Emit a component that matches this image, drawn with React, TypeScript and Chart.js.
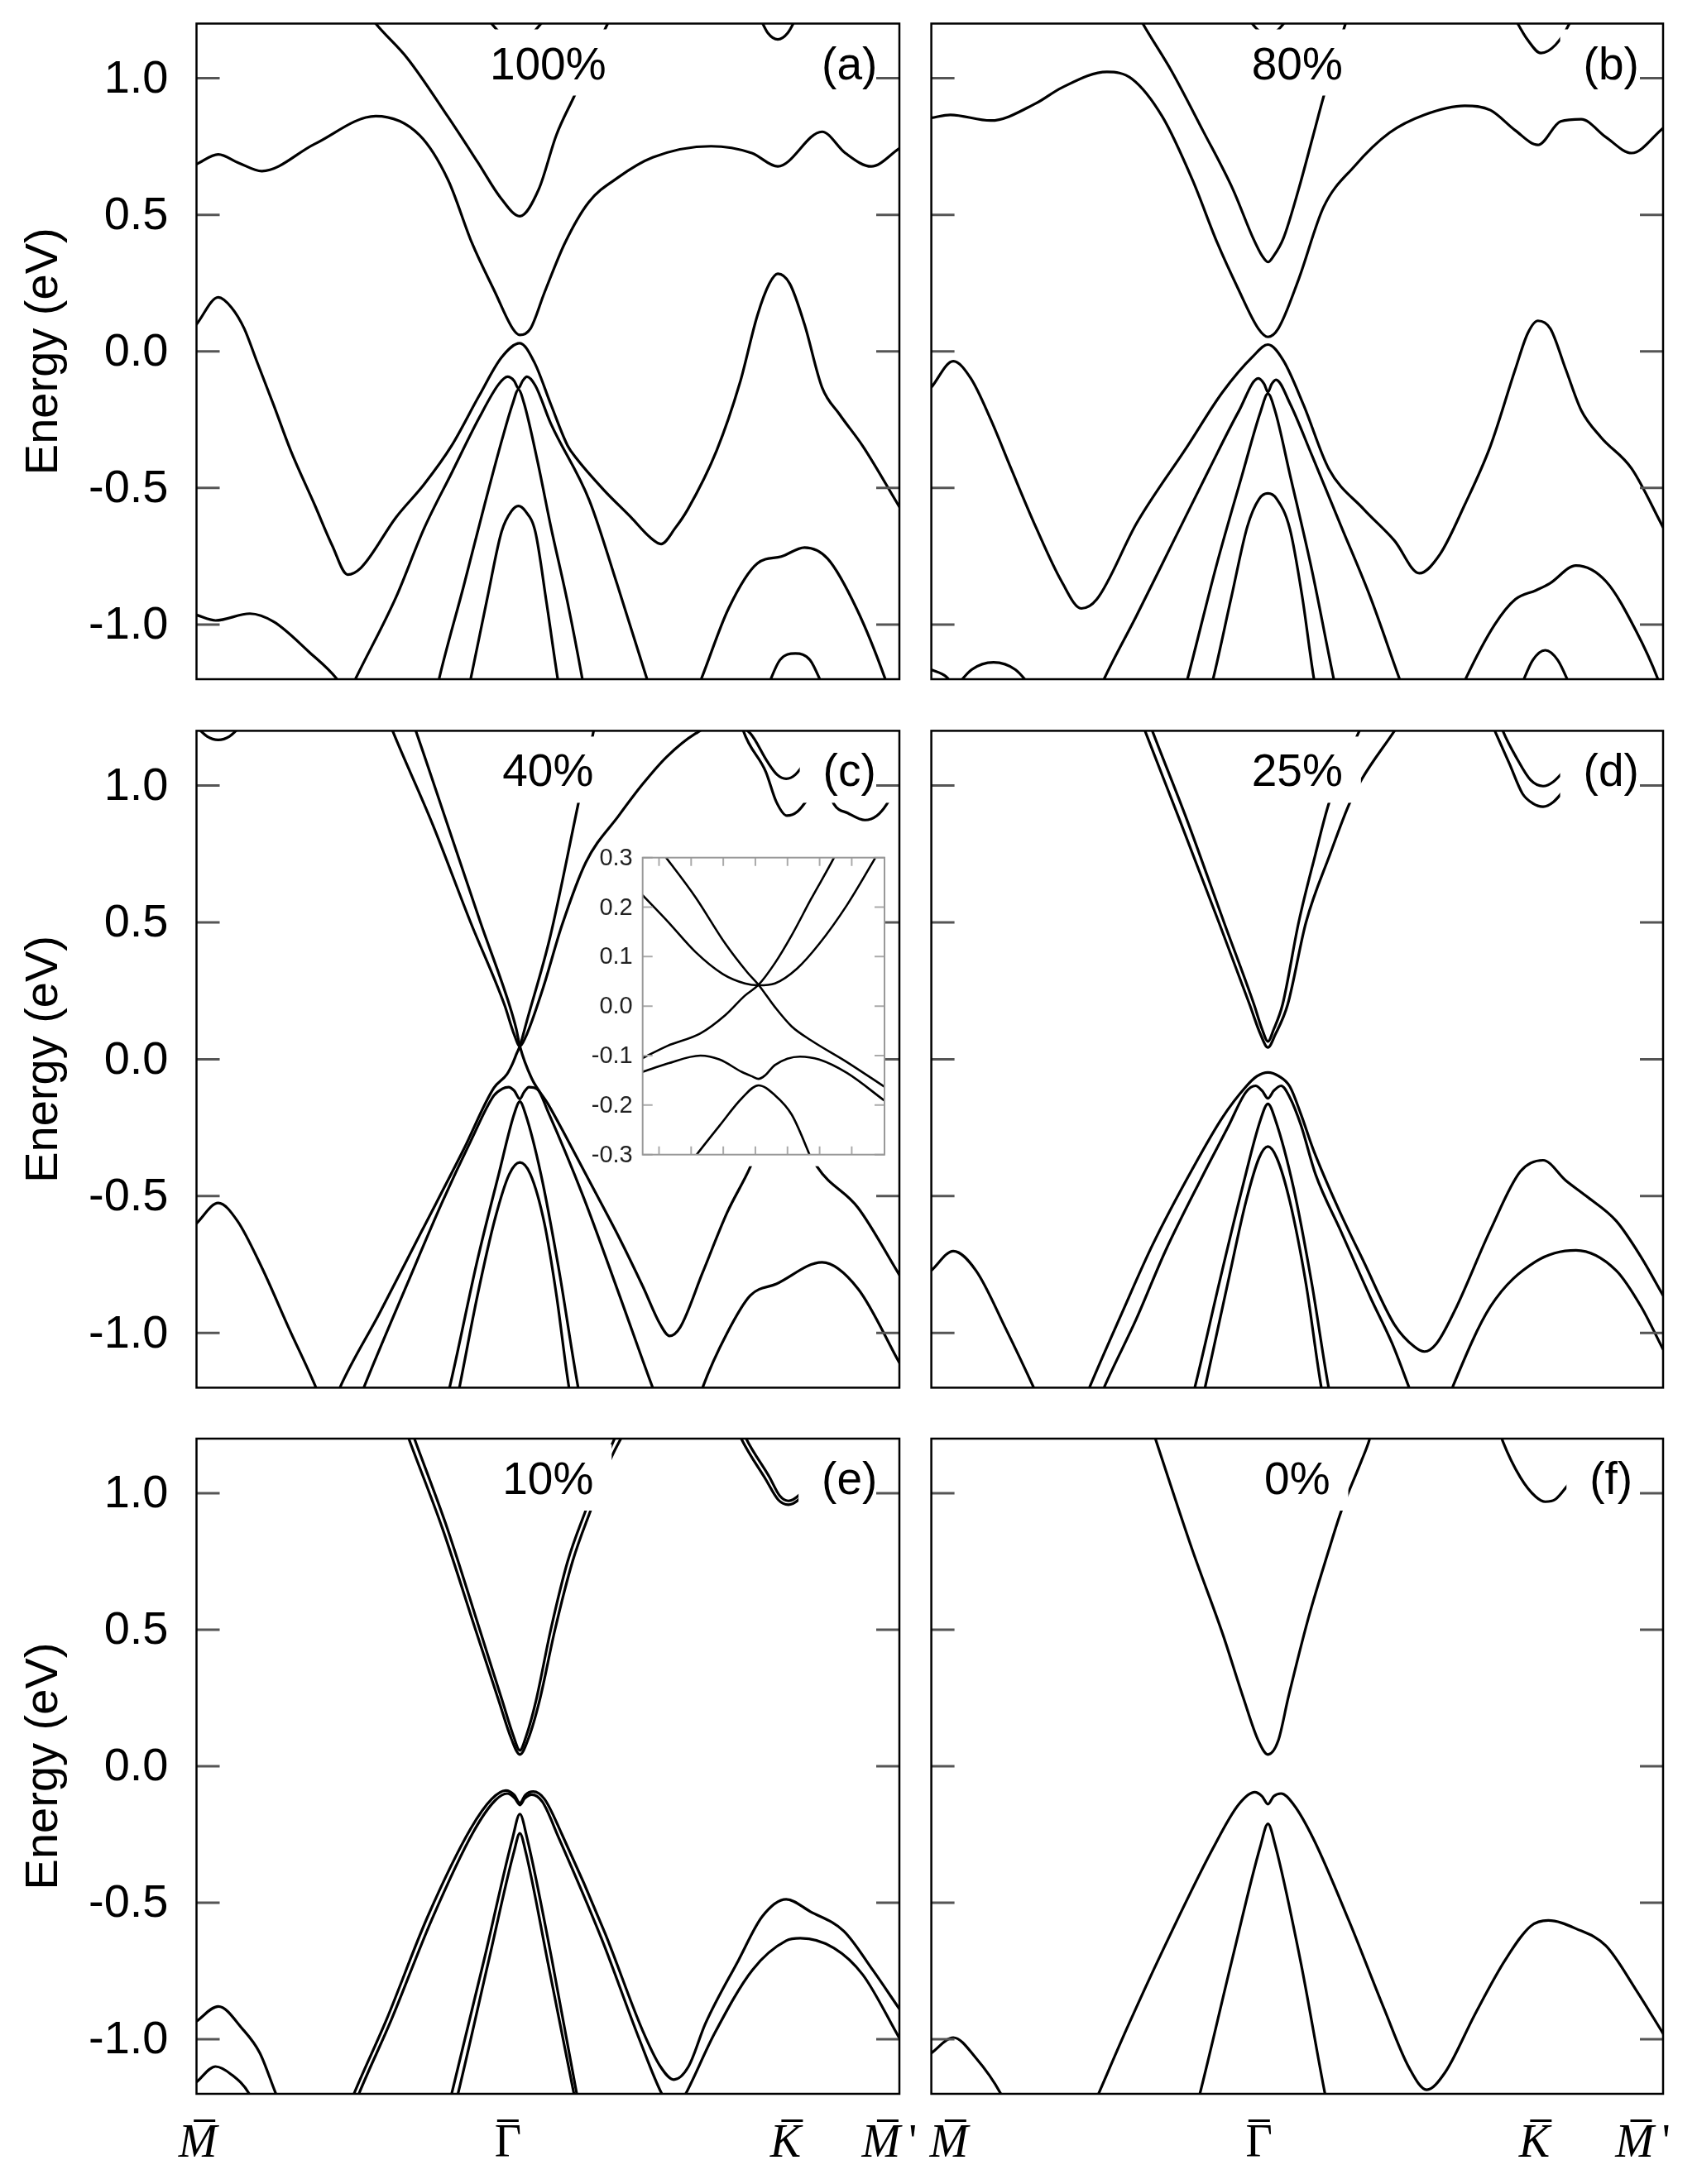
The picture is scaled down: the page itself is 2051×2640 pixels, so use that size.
import { useEffect, useRef } from 'react';
import { Chart, registerables } from 'chart.js';

Chart.register(...registerables);

type Pt = [number, number];

// x = position along the k-path (0 = M, 1 = M'), y = energy in eV

// (a) 100%
const a_c0: Pt[] = [[0.41, 1.23], [0.43, 1.17], [0.455, 1.11], [0.48, 1.17], [0.5, 1.23]];
const a_c1: Pt[] = [[0.235, 1.27], [0.255, 1.2], [0.3, 1.073], [0.358, 0.858], [0.4, 0.693], [0.433, 0.561], [0.46, 0.495], [0.487, 0.594], [0.512, 0.792], [0.537, 0.932], [0.585, 1.2], [0.595, 1.25]];
const a_c2: Pt[] = [[0, 0.685], [0.031, 0.721], [0.06, 0.69], [0.093, 0.66], [0.168, 0.759], [0.255, 0.861], [0.317, 0.792], [0.358, 0.627], [0.392, 0.396], [0.425, 0.215], [0.45, 0.083], [0.46, 0.06], [0.475, 0.083], [0.495, 0.215], [0.524, 0.396], [0.558, 0.546], [0.6, 0.637], [0.649, 0.71], [0.732, 0.751], [0.79, 0.726], [0.827, 0.677], [0.89, 0.804], [0.923, 0.726], [0.96, 0.677], [1, 0.743]];
const a_c3: Pt[] = [[0.8, 1.23], [0.813, 1.165], [0.827, 1.142], [0.841, 1.165], [0.855, 1.23]];
const a_v1: Pt[] = [[0, 0.099], [0.031, 0.198], [0.05, 0.16], [0.068, 0.083], [0.085, -0.031], [0.11, -0.198], [0.134, -0.363], [0.168, -0.561], [0.193, -0.71], [0.215, -0.817], [0.234, -0.792], [0.284, -0.607], [0.324, -0.486], [0.363, -0.345], [0.402, -0.163], [0.434, -0.022], [0.46, 0.03], [0.481, -0.042], [0.504, -0.193], [0.528, -0.345], [0.54, -0.39], [0.579, -0.506], [0.618, -0.607], [0.645, -0.68], [0.661, -0.705], [0.681, -0.647], [0.699, -0.578], [0.74, -0.363], [0.773, -0.116], [0.798, 0.132], [0.815, 0.248], [0.827, 0.284], [0.844, 0.248], [0.865, 0.099], [0.89, -0.132], [0.915, -0.231], [0.948, -0.347], [1, -0.569]];
const a_v2: Pt[] = [[0.215, -1.26], [0.226, -1.2], [0.284, -0.899], [0.324, -0.647], [0.363, -0.445], [0.402, -0.244], [0.43, -0.12], [0.4425, -0.093], [0.452, -0.108], [0.458, -0.135], [0.464, -0.108], [0.47, -0.093], [0.482, -0.125], [0.504, -0.264], [0.559, -0.546], [0.598, -0.849], [0.641, -1.2], [0.648, -1.26]];
const a_v3: Pt[] = [[0.34, -1.26], [0.345, -1.2], [0.38, -0.86], [0.41, -0.56], [0.435, -0.32], [0.45, -0.19], [0.458, -0.14], [0.466, -0.19], [0.485, -0.4], [0.504, -0.64], [0.528, -0.92], [0.549, -1.2], [0.553, -1.26]];
const a_v4: Pt[] = [[0.385, -1.26], [0.39, -1.2], [0.414, -0.9], [0.434, -0.66], [0.448, -0.585], [0.458, -0.566], [0.468, -0.585], [0.482, -0.66], [0.498, -0.92], [0.514, -1.2], [0.518, -1.26]];
const a_v5: Pt[] = [[0, -0.965], [0.027, -0.985], [0.076, -0.96], [0.11, -0.99], [0.16, -1.1], [0.2, -1.2], [0.21, -1.24]];
const a_v6: Pt[] = [[0.71, -1.25], [0.718, -1.2], [0.757, -0.941], [0.798, -0.776], [0.832, -0.751], [0.865, -0.718], [0.898, -0.759], [0.939, -0.941], [0.98, -1.2], [0.985, -1.24]];
const a_v7: Pt[] = [[0.812, -1.23], [0.83, -1.13], [0.852, -1.106], [0.873, -1.13], [0.892, -1.23]];

// (b) 80%
const b_c0: Pt[] = [[0.43, 1.23], [0.445, 1.18], [0.46, 1.155], [0.475, 1.18], [0.49, 1.23]];
const b_c1: Pt[] = [[0.275, 1.27], [0.289, 1.2], [0.329, 1.023], [0.371, 0.809], [0.412, 0.594], [0.44, 0.413], [0.452, 0.35], [0.46, 0.327], [0.468, 0.35], [0.481, 0.413], [0.502, 0.594], [0.522, 0.792], [0.536, 0.932], [0.566, 1.2], [0.572, 1.25]];
const b_c2: Pt[] = [[0, 0.855], [0.026, 0.866], [0.081, 0.845], [0.143, 0.908], [0.178, 0.965], [0.24, 1.023], [0.274, 0.998], [0.316, 0.858], [0.357, 0.627], [0.391, 0.396], [0.419, 0.231], [0.447, 0.083], [0.46, 0.053], [0.474, 0.083], [0.502, 0.264], [0.536, 0.528], [0.578, 0.677], [0.626, 0.8], [0.674, 0.866], [0.729, 0.899], [0.764, 0.883], [0.798, 0.809], [0.829, 0.756], [0.86, 0.842], [0.888, 0.85], [0.922, 0.784], [0.957, 0.726], [1, 0.817]];
const b_c3: Pt[] = [[0.795, 1.23], [0.815, 1.14], [0.833, 1.092], [0.853, 1.122], [0.872, 1.2], [0.878, 1.24]];
const b_v1: Pt[] = [[0, -0.132], [0.03, -0.036], [0.054, -0.099], [0.081, -0.248], [0.109, -0.429], [0.143, -0.644], [0.178, -0.842], [0.205, -0.941], [0.226, -0.908], [0.281, -0.627], [0.35, -0.347], [0.398, -0.149], [0.44, -0.017], [0.46, 0.025], [0.481, -0.033], [0.509, -0.198], [0.543, -0.429], [0.591, -0.578], [0.633, -0.693], [0.667, -0.812], [0.695, -0.743], [0.729, -0.561], [0.764, -0.347], [0.798, -0.066], [0.815, 0.066], [0.829, 0.112], [0.846, 0.083], [0.867, -0.066], [0.888, -0.215], [0.915, -0.314], [0.957, -0.429], [1, -0.644]];
const b_v2: Pt[] = [[0.228, -1.25], [0.236, -1.2], [0.28, -0.97], [0.33, -0.7], [0.38, -0.43], [0.42, -0.22], [0.447, -0.099], [0.455, -0.12], [0.46, -0.149], [0.465, -0.12], [0.471, -0.104], [0.49, -0.19], [0.52, -0.38], [0.56, -0.64], [0.6, -0.9], [0.64, -1.2], [0.647, -1.25]];
const b_v3: Pt[] = [[0.345, -1.25], [0.35, -1.2], [0.39, -0.78], [0.425, -0.45], [0.45, -0.22], [0.46, -0.155], [0.47, -0.22], [0.49, -0.45], [0.52, -0.8], [0.55, -1.2], [0.554, -1.25]];
const b_v4: Pt[] = [[0.38, -1.25], [0.385, -1.2], [0.41, -0.9], [0.432, -0.64], [0.448, -0.54], [0.46, -0.52], [0.472, -0.54], [0.49, -0.65], [0.507, -0.9], [0.523, -1.2], [0.527, -1.25]];
const b_v5a: Pt[] = [[0, -1.165], [0.02, -1.19], [0.035, -1.24]];
const b_v5b: Pt[] = [[0.03, -1.24], [0.055, -1.165], [0.085, -1.138], [0.115, -1.165], [0.14, -1.24]];
const b_v6: Pt[] = [[0.722, -1.25], [0.73, -1.2], [0.77, -1.0], [0.798, -0.908], [0.826, -0.875], [0.845, -0.85], [0.881, -0.784], [0.922, -0.842], [0.963, -1.023], [0.993, -1.2], [0.998, -1.24]];
const b_v7: Pt[] = [[0.805, -1.23], [0.822, -1.13], [0.839, -1.094], [0.856, -1.13], [0.874, -1.23]];

// (c) 40%
const c_tl: Pt[] = [[0, 1.215], [0.015, 1.18], [0.031, 1.167], [0.047, 1.18], [0.062, 1.215]];
const c_u: Pt[] = [[0.27, 1.26], [0.279, 1.2], [0.336, 0.858], [0.39, 0.5], [0.438, 0.2], [0.452, 0.09], [0.46, 0.048], [0.468, 0.08], [0.493, 0.26], [0.52, 0.49], [0.554, 0.72], [0.601, 0.891], [0.635, 1.006], [0.669, 1.105], [0.71, 1.19], [0.75, 1.235], [0.788, 1.19], [0.812, 1.088], [0.826, 1.04], [0.839, 1.025], [0.852, 1.04], [0.875, 1.12]];
const c_x1: Pt[] = [[0.305, 1.25], [0.312, 1.2], [0.357, 0.858], [0.404, 0.5], [0.445, 0.2], [0.455, 0.11], [0.46, 0.048], [0.4767, -0.069], [0.5, -0.163], [0.525, -0.28], [0.56, -0.45], [0.601, -0.65], [0.635, -0.83], [0.66, -0.97], [0.673, -1.011], [0.688, -0.98], [0.72, -0.78], [0.755, -0.56], [0.788, -0.393], [0.81, -0.25], [0.83, -0.18], [0.85, -0.22], [0.883, -0.393], [0.941, -0.542], [1, -0.788]];
const c_x2: Pt[] = [[0.198, -1.24], [0.204, -1.2], [0.26, -0.93], [0.32, -0.63], [0.38, -0.33], [0.423, -0.105], [0.4416, -0.055], [0.4493, -0.018], [0.4555, 0.021], [0.46, 0.048], [0.47, 0.14], [0.503, 0.446], [0.543, 0.932], [0.565, 1.2], [0.57, 1.26]];
const c_m: Pt[] = [[0.232, -1.24], [0.238, -1.2], [0.3, -0.82], [0.35, -0.52], [0.39, -0.3], [0.423, -0.133], [0.435, -0.108], [0.444, -0.102], [0.452, -0.115], [0.46, -0.145], [0.466, -0.12], [0.473, -0.102], [0.485, -0.11], [0.5, -0.191], [0.55, -0.5], [0.6, -0.85], [0.649, -1.2], [0.655, -1.24]];
const c_l: Pt[] = [[0.355, -1.25], [0.36, -1.2], [0.4, -0.73], [0.43, -0.42], [0.452, -0.2], [0.46, -0.155], [0.468, -0.2], [0.49, -0.42], [0.515, -0.76], [0.543, -1.2], [0.547, -1.25]];
const c_low: Pt[] = [[0.37, -1.25], [0.374, -1.2], [0.4, -0.86], [0.425, -0.58], [0.445, -0.42], [0.46, -0.377], [0.475, -0.42], [0.495, -0.6], [0.512, -0.86], [0.53, -1.2], [0.534, -1.25]];
const c_left: Pt[] = [[0, -0.6], [0.031, -0.525], [0.058, -0.59], [0.092, -0.756], [0.132, -0.986], [0.17, -1.2], [0.176, -1.24]];
const c_k2: Pt[] = [[0.714, -1.25], [0.72, -1.2], [0.755, -1.0], [0.788, -0.863], [0.825, -0.821], [0.89, -0.742], [0.941, -0.838], [1, -1.109]];
const c_tr2: Pt[] = [[0.773, 1.25], [0.778, 1.2], [0.81, 1.05], [0.825, 0.94], [0.84, 0.89], [0.855, 0.905], [0.875, 0.97]];
const c_tr3: Pt[] = [[0.885, 1.08], [0.907, 0.932], [0.927, 0.899], [0.951, 0.874], [0.968, 0.89], [0.982, 0.932], [1, 1.02]];

// (d) 25%
const d_c1: Pt[] = [[0.285, 1.25], [0.292, 1.2], [0.34, 0.87], [0.393, 0.5], [0.435, 0.2], [0.45, 0.09], [0.46, 0.043], [0.47, 0.09], [0.487, 0.2], [0.512, 0.5], [0.545, 0.75], [0.571, 0.932], [0.588, 1.022], [0.633, 1.2], [0.645, 1.25]];
const d_c2: Pt[] = [[0.295, 1.25], [0.302, 1.2], [0.35, 0.87], [0.4, 0.5], [0.441, 0.2], [0.452, 0.11], [0.46, 0.065], [0.468, 0.11], [0.48, 0.2], [0.502, 0.5], [0.525, 0.75], [0.543, 0.932], [0.565, 1.08], [0.585, 1.2], [0.59, 1.23]];
const d_trLo: Pt[] = [[0.765, 1.23], [0.77, 1.2], [0.79, 1.08], [0.808, 0.97], [0.822, 0.935], [0.836, 0.923], [0.85, 0.94], [0.87, 1.0]];
const d_trUp: Pt[] = [[0.777, 1.23], [0.781, 1.2], [0.8, 1.1], [0.819, 1.02], [0.836, 0.998], [0.85, 1.014], [0.87, 1.07]];
const d_left: Pt[] = [[0, -0.772], [0.03, -0.701], [0.061, -0.772], [0.102, -0.986], [0.14, -1.2], [0.145, -1.23]];
const d_top: Pt[] = [[0.21, -1.24], [0.216, -1.2], [0.26, -0.93], [0.302, -0.68], [0.357, -0.4], [0.398, -0.212], [0.43, -0.1], [0.445, -0.062], [0.46, -0.048], [0.475, -0.062], [0.49, -0.1], [0.505, -0.2], [0.522, -0.33], [0.557, -0.55], [0.591, -0.74], [0.633, -0.97], [0.66, -1.05], [0.674, -1.068], [0.69, -1.04], [0.715, -0.92], [0.764, -0.624], [0.805, -0.41], [0.836, -0.369], [0.867, -0.443], [0.895, -0.5], [0.936, -0.591], [0.97, -0.723], [1, -0.863]];
const d_m: Pt[] = [[0.23, -1.24], [0.236, -1.2], [0.28, -0.95], [0.32, -0.7], [0.37, -0.43], [0.405, -0.25], [0.43, -0.12], [0.443, -0.097], [0.452, -0.115], [0.46, -0.143], [0.468, -0.115], [0.478, -0.097], [0.49, -0.14], [0.505, -0.24], [0.525, -0.42], [0.56, -0.63], [0.6, -0.87], [0.63, -1.04], [0.653, -1.2], [0.66, -1.25]];
const d_l: Pt[] = [[0.355, -1.25], [0.36, -1.2], [0.395, -0.8], [0.425, -0.47], [0.45, -0.22], [0.46, -0.163], [0.47, -0.22], [0.495, -0.47], [0.52, -0.82], [0.543, -1.2], [0.547, -1.25]];
const d_low: Pt[] = [[0.37, -1.25], [0.374, -1.2], [0.405, -0.82], [0.43, -0.52], [0.448, -0.36], [0.46, -0.319], [0.472, -0.36], [0.49, -0.52], [0.512, -0.82], [0.533, -1.2], [0.537, -1.25]];
const d_k2: Pt[] = [[0.705, -1.25], [0.712, -1.2], [0.764, -0.904], [0.826, -0.739], [0.881, -0.698], [0.936, -0.772], [0.97, -0.904], [1, -1.06]];

// (e) 10%
const e_c1: Pt[] = [[0.295, 1.25], [0.302, 1.2], [0.35, 0.87], [0.397, 0.5], [0.43, 0.24], [0.448, 0.1], [0.46, 0.043], [0.472, 0.1], [0.488, 0.24], [0.51, 0.5], [0.535, 0.75], [0.56, 0.932], [0.59, 1.13], [0.61, 1.23]];
const e_c2: Pt[] = [[0.303, 1.25], [0.31, 1.2], [0.357, 0.87], [0.403, 0.5], [0.435, 0.24], [0.451, 0.11], [0.46, 0.058], [0.469, 0.11], [0.483, 0.24], [0.504, 0.5], [0.528, 0.75], [0.553, 0.932], [0.583, 1.13], [0.6, 1.23]];
const e_trLo: Pt[] = [[0.77, 1.23], [0.775, 1.2], [0.81, 1.05], [0.828, 0.975], [0.842, 0.958], [0.856, 0.975], [0.87, 1.02]];
const e_trUp: Pt[] = [[0.777, 1.23], [0.782, 1.2], [0.815, 1.06], [0.83, 0.99], [0.842, 0.972], [0.856, 0.99], [0.87, 1.035]];
const e_l1: Pt[] = [[0, -0.934], [0.031, -0.88], [0.065, -0.961], [0.09, -1.05], [0.113, -1.2], [0.118, -1.23]];
const e_l2: Pt[] = [[0, -1.157], [0.027, -1.1], [0.05, -1.13], [0.075, -1.2], [0.08, -1.23]];
const e_v1: Pt[] = [[0.218, -1.24], [0.224, -1.2], [0.27, -0.93], [0.329, -0.55], [0.39, -0.229], [0.42, -0.12], [0.44, -0.089], [0.452, -0.105], [0.46, -0.135], [0.468, -0.105], [0.479, -0.093], [0.495, -0.12], [0.52, -0.25], [0.581, -0.61], [0.635, -0.97], [0.66, -1.1], [0.679, -1.148], [0.7, -1.1], [0.724, -0.943], [0.771, -0.711], [0.805, -0.55], [0.839, -0.4875], [0.873, -0.532], [0.921, -0.604], [0.962, -0.746], [1, -0.889]];
const e_v2: Pt[] = [[0.225, -1.24], [0.231, -1.2], [0.277, -0.93], [0.335, -0.56], [0.394, -0.24], [0.425, -0.125], [0.442, -0.1], [0.453, -0.118], [0.46, -0.142], [0.467, -0.118], [0.477, -0.104], [0.492, -0.13], [0.515, -0.26], [0.576, -0.63], [0.63, -1.0], [0.662, -1.2], [0.68, -1.27], [0.696, -1.2], [0.737, -0.979], [0.791, -0.746], [0.839, -0.639], [0.859, -0.63], [0.907, -0.666], [0.948, -0.764], [1, -0.996]];
const e_l3: Pt[] = [[0.358, -1.25], [0.363, -1.2], [0.41, -0.7], [0.45, -0.26], [0.46, -0.175], [0.47, -0.26], [0.505, -0.7], [0.541, -1.2], [0.545, -1.25]];
const e_low: Pt[] = [[0.367, -1.25], [0.372, -1.2], [0.415, -0.72], [0.452, -0.31], [0.46, -0.246], [0.468, -0.31], [0.5, -0.72], [0.537, -1.2], [0.541, -1.25]];

// (f) 0%
const f_c: Pt[] = [[0.3, 1.25], [0.307, 1.193], [0.357, 0.79], [0.398, 0.486], [0.426, 0.254], [0.447, 0.093], [0.46, 0.043], [0.474, 0.093], [0.488, 0.254], [0.515, 0.54], [0.543, 0.79], [0.56, 0.933], [0.588, 1.12], [0.598, 1.19], [0.603, 1.24]];
const f_tr: Pt[] = [[0.776, 1.23], [0.781, 1.19], [0.805, 1.058], [0.826, 0.987], [0.839, 0.969], [0.853, 0.978], [0.87, 1.03]];
const f_v1: Pt[] = [[0.222, -1.24], [0.228, -1.203], [0.267, -0.962], [0.316, -0.676], [0.385, -0.3], [0.42, -0.14], [0.442, -0.095], [0.452, -0.11], [0.46, -0.139], [0.468, -0.11], [0.478, -0.1], [0.495, -0.14], [0.522, -0.265], [0.571, -0.568], [0.619, -0.89], [0.653, -1.105], [0.677, -1.185], [0.702, -1.122], [0.743, -0.908], [0.784, -0.711], [0.819, -0.586], [0.843, -0.565], [0.881, -0.595], [0.922, -0.658], [0.963, -0.819], [1, -0.979]];
const f_l: Pt[] = [[0.362, -1.25], [0.367, -1.2], [0.41, -0.72], [0.45, -0.29], [0.46, -0.211], [0.47, -0.29], [0.505, -0.72], [0.538, -1.2], [0.542, -1.25]];
const f_left: Pt[] = [[0, -1.051], [0.03, -0.994], [0.061, -1.069], [0.095, -1.2], [0.1, -1.23]];

// inset of (c): zoom around Gamma, x in tick units
const in_u: Pt[] = [[-3.51, 0.224], [-2.73, 0.171], [-1.875, 0.11], [-1.017, 0.065], [-0.33, 0.046], [0.098, 0.042], [0.61, 0.046], [1.3, 0.076], [1.99, 0.126], [2.85, 0.204], [3.74, 0.3], [4.02, 0.33]];
const in_x1: Pt[] = [[-2.9, 0.31], [-2.78, 0.3], [-1.875, 0.221], [-0.934, 0.126], [-0.248, 0.068], [0.098, 0.043], [0.61, -0.002], [1.13, -0.041], [1.73, -0.069], [2.85, -0.113], [4.02, -0.163]];
const in_x2: Pt[] = [[-3.51, -0.105], [-2.73, -0.08], [-1.71, -0.055], [-0.934, -0.018], [-0.33, 0.021], [0.098, 0.043], [0.61, 0.087], [1.13, 0.143], [1.73, 0.216], [2.45, 0.3], [2.6, 0.32]];
const in_m: Pt[] = [[-3.51, -0.133], [-2.73, -0.116], [-1.71, -0.1], [-1.11, -0.108], [-0.42, -0.133], [-0.1, -0.142], [0.098, -0.147], [0.3, -0.14], [0.61, -0.119], [1.39, -0.102], [1.99, -0.108], [2.85, -0.135], [4.02, -0.191]];
const in_l: Pt[] = [[-2.0, -0.315], [-1.84, -0.301], [-1.11, -0.241], [-0.42, -0.186], [0.098, -0.16], [0.61, -0.18], [1.13, -0.219], [1.69, -0.301], [1.8, -0.32]];

const energyTicks = [-1, -0.5, 0, 0.5, 1];
const energyTickLabels = ['-1.0', '-0.5', '0.0', '0.5', '1.0'];
const insetETicks = [-0.3, -0.2, -0.1, 0, 0.1, 0.2, 0.3];
const insetETickLabels = ['-0.3', '-0.2', '-0.1', '0.0', '0.1', '0.2', '0.3'];
const insetKTicks = [-3, -2, -1, 0, 1, 2, 3];
const kPointNames = ['M', 'Γ', 'K', 'M'];
const kPointsE = [0.002, 0.443, 0.838, 0.974];
const kPointsF = [0.024, 0.448, 0.824, 0.961];

const SANS = '"Liberation Sans", Arial, Helvetica, sans-serif';
const SERIF = '"Liberation Serif", "Times New Roman", serif';

interface PanelSpec {
  letter: string;
  percent: string;
  bands: Pt[][];
  box: { left: number; top: number; width: number; height: number };
  pad: { left: number; top: number; right: number; bottom: number };
  yLabels: boolean;
  kPos?: number[];
}

const panels: PanelSpec[] = [
  { letter: '(a)', percent: '100%', bands: [a_c0, a_c1, a_c2, a_c3, a_v1, a_v2, a_v3, a_v4, a_v5, a_v6, a_v7],
    box: { left: 0, top: 0, width: 1120, height: 852 }, pad: { left: 237.5, top: 28.5, right: 33, bottom: 31 }, yLabels: true },
  { letter: '(b)', percent: '80%', bands: [b_c0, b_c1, b_c2, b_c3, b_v1, b_v2, b_v3, b_v4, b_v5a, b_v5b, b_v6, b_v7],
    box: { left: 1106, top: 0, width: 945, height: 852 }, pad: { left: 19.6, top: 28.5, right: 41, bottom: 31 }, yLabels: false },
  { letter: '(c)', percent: '40%', bands: [c_tl, c_u, c_x1, c_x2, c_m, c_l, c_low, c_left, c_k2, c_tr2, c_tr3],
    box: { left: 0, top: 852, width: 1120, height: 856 }, pad: { left: 237.5, top: 31.4, right: 33, bottom: 30.6 }, yLabels: true },
  { letter: '(d)', percent: '25%', bands: [d_c1, d_c2, d_trLo, d_trUp, d_left, d_top, d_m, d_l, d_low, d_k2],
    box: { left: 1106, top: 852, width: 945, height: 856 }, pad: { left: 19.6, top: 31.4, right: 41, bottom: 30.6 }, yLabels: false },
  { letter: '(e)', percent: '10%', bands: [e_c1, e_c2, e_trLo, e_trUp, e_l1, e_l2, e_v1, e_v2, e_l3, e_low],
    box: { left: 0, top: 1708, width: 1120, height: 932 }, pad: { left: 237.5, top: 31, right: 33, bottom: 109 }, yLabels: true, kPos: kPointsE },
  { letter: '(f)', percent: '0%', bands: [f_c, f_tr, f_v1, f_l, f_left],
    box: { left: 1106, top: 1708, width: 945, height: 932 }, pad: { left: 19.6, top: 31, right: 41, bottom: 109 }, yLabels: false, kPos: kPointsF },
];

function lineSet(band: Pt[], width: number) {
  return {
    data: band.map(([x, y]) => ({ x, y })),
    borderColor: '#000',
    borderWidth: width,
    borderCapStyle: 'round',
    borderJoinStyle: 'round',
    pointRadius: 0,
    fill: false,
    cubicInterpolationMode: 'monotone',
    clip: 0,
  };
}

function panelDecor(spec: PanelSpec) {
  return {
    id: 'panelDecor',
    afterDatasetsDraw(chart: any) {
      const { ctx, chartArea: ca, scales } = chart;
      const base = ca.top + 67;
      ctx.save();
      ctx.font = `55px ${SANS}`;
      ctx.textAlign = 'center';
      ctx.textBaseline = 'alphabetic';
      const tags: [string, number, number][] = [[spec.percent, 0.5, 22], [spec.letter, 0.929, 28]];
      for (const [text, frac, pad] of tags) {
        const cx = scales.x.getPixelForValue(frac);
        const w = ctx.measureText(text).width;
        ctx.fillStyle = '#fff';
        ctx.fillRect(cx - w / 2 - pad, base - 60, w + 2 * pad, 80);
        ctx.fillStyle = '#000';
        ctx.fillText(text, cx, base);
      }
      ctx.restore();
    },
    afterDraw(chart: any) {
      const { ctx, chartArea: ca, scales } = chart;
      ctx.save();
      ctx.strokeStyle = '#555';
      ctx.lineWidth = 3;
      for (const v of energyTicks) {
        const y = scales.y.getPixelForValue(v);
        ctx.beginPath();
        ctx.moveTo(ca.left, y);
        ctx.lineTo(ca.left + 28, y);
        ctx.moveTo(ca.right - 28, y);
        ctx.lineTo(ca.right, y);
        ctx.stroke();
      }
      ctx.strokeStyle = '#000';
      ctx.lineWidth = 2.5;
      ctx.strokeRect(ca.left, ca.top, ca.right - ca.left, ca.bottom - ca.top);

      ctx.fillStyle = '#000';
      if (spec.yLabels) {
        ctx.font = `56px ${SANS}`;
        ctx.textAlign = 'right';
        ctx.textBaseline = 'middle';
        energyTicks.forEach((v, i) => {
          ctx.fillText(energyTickLabels[i], ca.left - 34, scales.y.getPixelForValue(v) + 2);
        });
        ctx.save();
        ctx.translate(ca.left - 184, (ca.top + ca.bottom) / 2);
        ctx.rotate(-Math.PI / 2);
        ctx.textAlign = 'center';
        ctx.fillText('Energy (eV)', 0, 0);
        ctx.restore();
      }
      if (spec.kPos) {
        const base = ca.bottom + 76;
        spec.kPos.forEach((pos, i) => {
          const name = kPointNames[i];
          const italic = name !== 'Γ';
          const x = scales.x.getPixelForValue(pos);
          ctx.font = `${italic ? 'italic ' : ''}56px ${SERIF}`;
          ctx.textAlign = 'center';
          ctx.textBaseline = 'alphabetic';
          ctx.fillText(name, x, base);
          const w = ctx.measureText(name).width;
          const shift = italic ? 8 : 0;
          ctx.fillRect(x + shift - 13, ca.bottom + 31, 26, 3);
          if (i === kPointNames.length - 1) {
            ctx.font = `56px ${SERIF}`;
            ctx.textAlign = 'left';
            ctx.fillText("'", x + w / 2 + 10, base);
          }
        });
      }
      ctx.restore();
    },
  };
}

function BandPanel({ spec }: { spec: PanelSpec }) {
  const ref = useRef<HTMLCanvasElement>(null);

  useEffect(() => {
    if (!ref.current) return;
    const chart = new Chart(ref.current, {
      type: 'line',
      data: { datasets: spec.bands.map((b) => lineSet(b, 3.2)) as any },
      options: {
        responsive: false,
        animation: false,
        devicePixelRatio: 1,
        events: [],
        layout: { padding: spec.pad },
        scales: {
          x: { type: 'linear', min: 0, max: 1, display: false },
          y: { type: 'linear', min: -1.2, max: 1.2, display: false },
        },
        plugins: { legend: { display: false }, tooltip: { enabled: false } },
      },
      plugins: [panelDecor(spec)],
    });
    return () => chart.destroy();
  }, [spec]);

  const { left, top, width, height } = spec.box;
  return (
    <canvas ref={ref} width={width} height={height}
      style={{ position: 'absolute', left, top, width, height }} />
  );
}

const insetDecor = {
  id: 'insetDecor',
  beforeDatasetsDraw(chart: any) {
    const { ctx, chartArea: ca } = chart;
    ctx.save();
    ctx.fillStyle = '#fff';
    ctx.fillRect(ca.left - 4, ca.top - 2, ca.right - ca.left + 5, ca.bottom - ca.top + 16);
    ctx.restore();
  },
  afterDraw(chart: any) {
    const { ctx, chartArea: ca, scales } = chart;
    ctx.save();
    ctx.strokeStyle = '#aaa';
    ctx.lineWidth = 2;
    for (const k of insetKTicks) {
      const x = scales.x.getPixelForValue(k);
      ctx.beginPath();
      ctx.moveTo(x, ca.top);
      ctx.lineTo(x, ca.top + 10);
      ctx.moveTo(x, ca.bottom);
      ctx.lineTo(x, ca.bottom - 10);
      ctx.stroke();
    }
    for (const v of insetETicks) {
      const y = scales.y.getPixelForValue(v);
      ctx.beginPath();
      ctx.moveTo(ca.left, y);
      ctx.lineTo(ca.left + 12, y);
      ctx.moveTo(ca.right, y);
      ctx.lineTo(ca.right - 12, y);
      ctx.stroke();
    }
    ctx.strokeStyle = '#999';
    ctx.strokeRect(ca.left, ca.top, ca.right - ca.left, ca.bottom - ca.top);
    ctx.fillStyle = '#222';
    ctx.font = `29px ${SANS}`;
    ctx.textAlign = 'right';
    ctx.textBaseline = 'middle';
    insetETicks.forEach((v, i) => {
      ctx.fillText(insetETickLabels[i], ca.left - 12, scales.y.getPixelForValue(v) + 1);
    });
    ctx.restore();
  },
};

function InsetPanel() {
  const ref = useRef<HTMLCanvasElement>(null);

  useEffect(() => {
    if (!ref.current) return;
    const chart = new Chart(ref.current, {
      type: 'line',
      data: { datasets: [in_u, in_x1, in_x2, in_m, in_l].map((b) => lineSet(b, 2.6)) as any },
      options: {
        responsive: false,
        animation: false,
        devicePixelRatio: 1,
        events: [],
        layout: { padding: { left: 76.7, top: 21.7, right: 26, bottom: 19.3 } },
        scales: {
          x: { type: 'linear', min: -3.51, max: 4.02, display: false },
          y: { type: 'linear', min: -0.3, max: 0.3, display: false },
        },
        plugins: { legend: { display: false }, tooltip: { enabled: false } },
      },
      plugins: [insetDecor],
    });
    return () => chart.destroy();
  }, []);

  return (
    <canvas ref={ref} width={395} height={400}
      style={{ position: 'absolute', left: 700, top: 1015, width: 395, height: 400 }} />
  );
}

export default function App() {
  useEffect(() => {
    document.body.style.margin = '0';
    document.documentElement.style.overflow = 'hidden';
  }, []);

  return (
    <div style={{ position: 'absolute', left: 0, top: 0, width: 2051, height: 2640, background: '#fff', overflow: 'hidden' }}>
      {panels.map((p) => <BandPanel key={p.letter} spec={p} />)}
      <InsetPanel />
    </div>
  );
}
